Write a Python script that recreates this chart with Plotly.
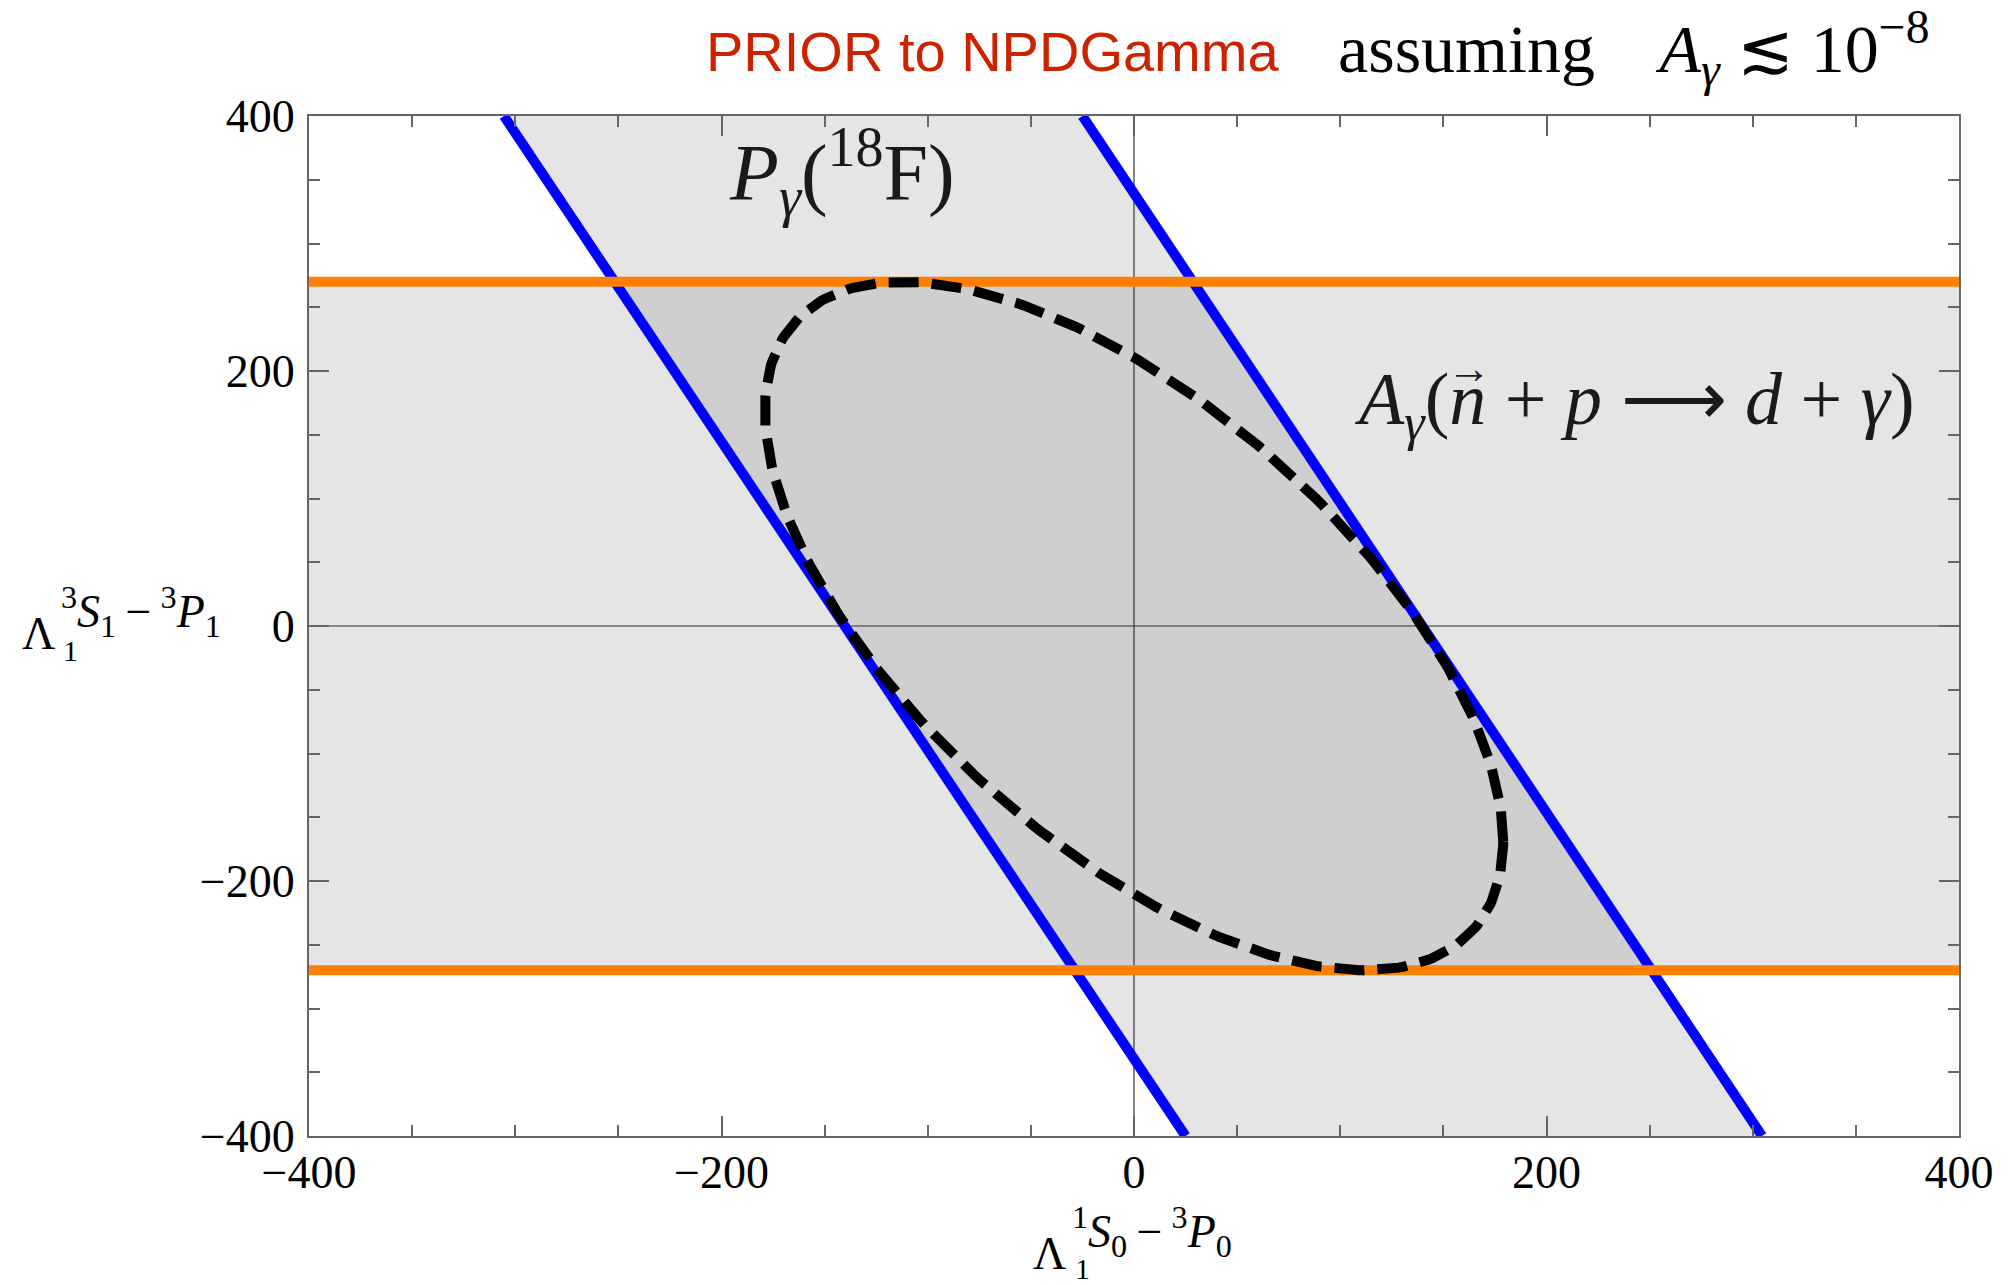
import numpy as np
import plotly.graph_objects as go

# ---------------- data ----------------
x_range = [-400, 400]
y_range = [-400, 400]
major_ticks = [-400, -200, 0, 200, 400]
tick_labels = ["\u2212400", "\u2212200", "0", "200", "400"]
minor_step = 50

# A_gamma(n+p->d+gamma) band: horizontal orange limits
agamma_band_y = [-270, 270]

# P_gamma(18F) band: blue lines, x where each line meets the top (y=400) and bottom (y=-400) edge
pgamma_top_x = [-305.5, -25.0]
pgamma_bottom_x = [25.0, 304.5]

# dashed ellipse: half-height, x of its top point, half-width
ellipse_half_height = 270.0
ellipse_top_x = -112.0
ellipse_half_width = 179.0

# ---------------- colours ----------------
LIGHT = "#e5e5e5"
DARK = "#cfcfcf"
BLUE = "#0000ff"
ORANGE = "#ff8000"
SERIF = "Liberation Serif, Times New Roman, serif"

# plot-area geometry in pixels (for placing text)
W, H = 2008, 1285
L, R, T, B = 309, 49, 116, 149


def pxx(p):
    return (p - L) / (W - L - R)


def pxy(p):
    return (H - B - p) / (H - T - B)


def dx(p):
    return x_range[0] + (p - L) / (W - L - R) * (x_range[1] - x_range[0])


def dy(p):
    return y_range[1] - (p - T) / (H - T - B) * (y_range[1] - y_range[0])


def line_x(top, bottom, y):
    return top + (bottom - top) * (y_range[1] - y) / (y_range[1] - y_range[0])


fig = go.Figure()

ylo, yhi = agamma_band_y
# orange band fill
fig.add_trace(go.Scatter(x=[x_range[0], x_range[1], x_range[1], x_range[0]],
                         y=[ylo, ylo, yhi, yhi], fill="toself", fillcolor=LIGHT,
                         mode="lines", line=dict(width=0), hoverinfo="skip"))
# blue band fill
fig.add_trace(go.Scatter(x=[pgamma_top_x[0], pgamma_top_x[1], pgamma_bottom_x[1], pgamma_bottom_x[0]],
                         y=[y_range[1], y_range[1], y_range[0], y_range[0]], fill="toself",
                         fillcolor=LIGHT, mode="lines", line=dict(width=0), hoverinfo="skip"))
# overlap fill
ix = [line_x(pgamma_top_x[0], pgamma_bottom_x[0], yhi), line_x(pgamma_top_x[1], pgamma_bottom_x[1], yhi),
      line_x(pgamma_top_x[1], pgamma_bottom_x[1], ylo), line_x(pgamma_top_x[0], pgamma_bottom_x[0], ylo)]
fig.add_trace(go.Scatter(x=ix, y=[yhi, yhi, ylo, ylo], fill="toself", fillcolor=DARK,
                         mode="lines", line=dict(width=0), hoverinfo="skip"))

# axes through the origin
fig.add_trace(go.Scatter(x=[0, 0], y=y_range, mode="lines", line=dict(color="#333333", width=1.2),
                         hoverinfo="skip"))
fig.add_trace(go.Scatter(x=x_range, y=[0, 0], mode="lines", line=dict(color="#333333", width=1.2),
                         hoverinfo="skip"))

# blue lines
for xt, xb in zip(pgamma_top_x, pgamma_bottom_x):
    fig.add_trace(go.Scatter(x=[xt, xb], y=[y_range[1], y_range[0]], mode="lines",
                             line=dict(color=BLUE, width=10), hoverinfo="skip"))
# orange lines
for yv in agamma_band_y:
    fig.add_trace(go.Scatter(x=x_range, y=[yv, yv], mode="lines",
                             line=dict(color=ORANGE, width=10), hoverinfo="skip"))

# dashed ellipse
A = np.array([[ellipse_half_width ** 2, ellipse_top_x * ellipse_half_height],
              [ellipse_top_x * ellipse_half_height, ellipse_half_height ** 2]])
Lc = np.linalg.cholesky(A)
t = np.linspace(0, 2 * np.pi, 400)
pts = Lc @ np.vstack([np.cos(t), np.sin(t)])
fig.add_trace(go.Scatter(x=pts[0], y=pts[1], mode="lines",
                         line=dict(color="black", width=10, dash="30px,13px"), hoverinfo="skip"))

axis_common = dict(
    showgrid=False, zeroline=False, showline=True, mirror="allticks",
    linecolor="#666666", linewidth=2, ticks="inside", ticklen=20, tickwidth=1.5,
    tickcolor="#666666", tickmode="array", tickvals=major_ticks, ticktext=tick_labels,
    tickfont=dict(family=SERIF, size=46, color="black"),
    minor=dict(dtick=minor_step, ticks="inside", ticklen=11, tickwidth=1.5,
               tickcolor="#666666", showgrid=False),
)
fig.update_xaxes(range=x_range, ticklabelstandoff=-5, **axis_common)
fig.update_yaxes(range=y_range, ticklabelstandoff=3, **axis_common)

ann = []


def add_text(text, x, y, size, family=SERIF, color="black", xanchor="center", yanchor="middle",
             xref="paper", yref="paper"):
    ann.append(dict(text=text, x=x, y=y, xref=xref, yref=yref, xanchor=xanchor, yanchor=yanchor,
                    showarrow=False, font=dict(family=family, size=size, color=color)))


# title pieces
add_text("PRIOR to NPDGamma", pxx(704), pxy(51), 56, family="Liberation Sans", color="#cc2200",
         xanchor="left")
add_text("assuming \u2002\u2009<i>A</i><sub><i>\u03b3</i></sub> \u2272 10<sup>\u22128</sup>", pxx(1336), pxy(48), 68,
         xanchor="left")

# in-plot labels
add_text("<i>P</i><sub><i>\u03b3</i></sub>(<sup>18</sup>F)", dx(842), dy(172), 80,
         color="#1a1a1a", xref="x", yref="y")
lab_left = 1352
lab_size = 74
add_text("<i>A</i><sub><i>\u03b3</i></sub>(<i>n</i> + <i>p</i> \u27f6 <i>d</i> + <i>\u03b3</i>)",
         dx(lab_left), dy(404), lab_size, color="#1a1a1a", xanchor="left", xref="x", yref="y")
# vector arrow over n
add_text("\u2192", dx(lab_left + 1.58 * lab_size), dy(368), 44, color="#1a1a1a", xref="x", yref="y")

# x axis title pieces
add_text("\u039b", pxx(1049), pxy(1253), 46)
add_text("1", pxx(1082), pxy(1268), 30)
add_text("<sup>1</sup><i>S</i><sub>0</sub>\u2009\u2212\u2009<sup>3</sup><i>P</i><sub>0</sub>",
         pxx(1070), pxy(1231), 46, xanchor="left")
# y axis title pieces
add_text("\u039b", pxx(38), pxy(633), 46)
add_text("1", pxx(71), pxy(650), 30)
add_text("<sup>3</sup><i>S</i><sub>1</sub>\u2009\u2212\u2009<sup>3</sup><i>P</i><sub>1</sub>",
         pxx(59), pxy(611), 46, xanchor="left")

fig.update_layout(
    width=W, height=H, autosize=False,
    margin=dict(l=L, r=R, t=T, b=B, pad=0),
    paper_bgcolor="white", plot_bgcolor="white",
    font=dict(family=SERIF, color="black"),
    showlegend=False, annotations=ann,
)

fig.write_html("out.html")
